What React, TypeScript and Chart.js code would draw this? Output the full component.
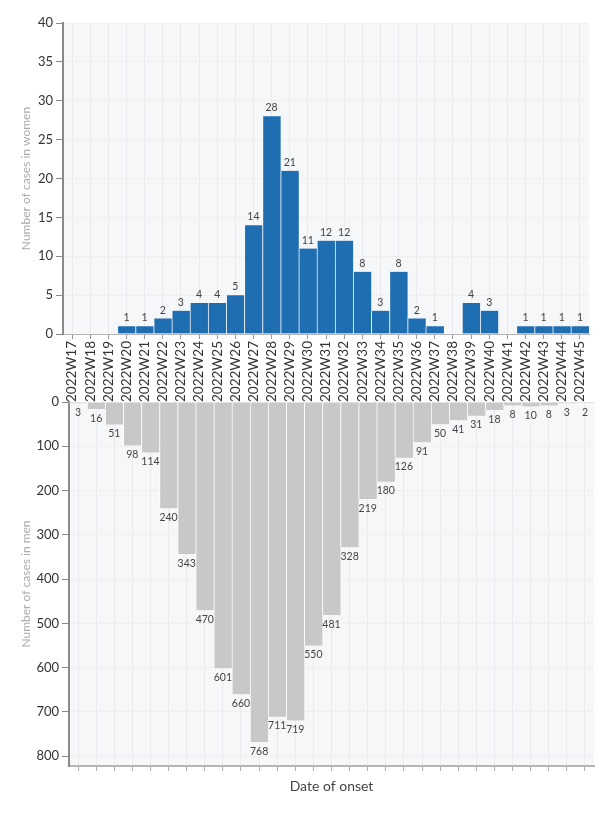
import React, { useEffect, useRef } from "react";
import { Chart, registerables } from "chart.js";
Chart.register(...registerables);

const weeks = [
  "2022W17", "2022W18", "2022W19", "2022W20", "2022W21", "2022W22", "2022W23", "2022W24",
  "2022W25", "2022W26", "2022W27", "2022W28", "2022W29", "2022W30", "2022W31", "2022W32",
  "2022W33", "2022W34", "2022W35", "2022W36", "2022W37", "2022W38", "2022W39", "2022W40",
  "2022W41", "2022W42", "2022W43", "2022W44", "2022W45",
];
const womenCases = [0, 0, 0, 1, 1, 2, 3, 4, 4, 5, 14, 28, 21, 11, 12, 12, 8, 3, 8, 2, 1, 0, 4, 3, 0, 1, 1, 1, 1];
const menCases = [3, 16, 51, 98, 114, 240, 343, 470, 601, 660, 768, 711, 719, 550, 481, 328, 219, 180, 126, 91, 50, 41, 31, 18, 8, 10, 8, 3, 2];
const womenAxisMax = 40;
const womenStep = 5;
const menAxisMax = 822;
const menTicks = [0, 100, 200, 300, 400, 500, 600, 700, 800];

const FONT = "Lato, 'Open Sans', sans-serif";

const plotBg = {
  id: "plotBg",
  beforeDraw(chart: any) {
    const { ctx, chartArea } = chart;
    ctx.save();
    ctx.fillStyle = "#f6f7f9";
    ctx.fillRect(chartArea.left, chartArea.top, chartArea.right - chartArea.left, chartArea.bottom - chartArea.top);
    ctx.restore();
  },
};

const valueLabels = (pos: "above" | "below") => ({
  id: "valueLabels",
  afterDatasetsDraw(chart: any) {
    const ctx = chart.ctx;
    const meta = chart.getDatasetMeta(0);
    const data = chart.data.datasets[0].data as number[];
    ctx.save();
    ctx.font = `10.5px ${FONT}`;
    ctx.fillStyle = "#444";
    ctx.textAlign = "center";
    meta.data.forEach((bar: any, i: number) => {
      const v = data[i];
      if (!v) return;
      const { x, y } = bar.getProps(["x", "y"], true);
      if (pos === "above") {
        ctx.textBaseline = "bottom";
        ctx.fillText(String(v), x, y - 3);
      } else {
        ctx.textBaseline = "top";
        ctx.fillText(String(v), x, y + 4);
      }
    });
    ctx.restore();
  },
});

export default function App() {
  const topRef = useRef<HTMLCanvasElement>(null);
  const botRef = useRef<HTMLCanvasElement>(null);

  useEffect(() => {
    const top = new Chart(topRef.current!, {
      type: "bar",
      data: {
        labels: weeks,
        datasets: [
          {
            data: womenCases,
            backgroundColor: "#1f6eb2",
            borderColor: "rgba(255,255,255,0.55)",
            borderWidth: { left: 1, right: 0, top: 0, bottom: 0 },
            barPercentage: 1,
            categoryPercentage: 1,
          },
        ],
      },
      options: {
        responsive: false,
        animation: false,
        layout: { padding: { top: 23, right: 19, left: 0, bottom: 0 } },
        plugins: { legend: { display: false }, tooltip: { enabled: false } },
        scales: {
          x: {
            offset: true,
            grid: { offset: false, color: "#e9ebee", drawTicks: true, tickLength: 5, tickColor: "#999" },
            border: { color: "#b5b5b5", width: 1 },
            ticks: { minRotation: 90, maxRotation: 90, autoSkip: false, font: { size: 13.5, family: FONT }, color: "#333", padding: 2 },
            afterFit: (s: any) => { s.height = 76; },
          },
          y: {
            min: 0,
            max: womenAxisMax,
            ticks: { stepSize: womenStep, font: { size: 13, family: FONT }, color: "#333", padding: 3 },
            grid: { color: "#eef0f2", drawTicks: true, tickLength: 7, tickColor: "#888" },
            border: { color: "#8a8a8a", width: 2 },
            title: { display: true, text: "Number of cases in women", color: "#aaa", font: { size: 12, family: FONT }, padding: { top: 19, bottom: 0 } },
            afterFit: (s: any) => { s.width = 63; },
          },
        },
      },
      plugins: [plotBg, valueLabels("above")],
    } as any);

    const bot = new Chart(botRef.current!, {
      type: "bar",
      data: {
        labels: weeks,
        datasets: [
          {
            data: menCases,
            backgroundColor: "#c8c8c8",
            borderColor: "rgba(255,255,255,0.8)",
            borderWidth: { left: 1, right: 0, top: 0, bottom: 0 },
            barPercentage: 1,
            categoryPercentage: 1,
          },
        ],
      },
      options: {
        responsive: false,
        animation: false,
        layout: { padding: { top: 22, right: 14, left: 0, bottom: 0 } },
        plugins: { legend: { display: false }, tooltip: { enabled: false } },
        scales: {
          x: {
            offset: true,
            grid: { offset: false, color: "#e9ebee", drawTicks: true, tickLength: 5, tickColor: "#aaa" },
            border: { color: "#b5b5b5", width: 2 },
            ticks: { display: false },
            title: { display: true, text: "Date of onset", color: "#444", font: { size: 14, family: FONT }, padding: { top: 0, bottom: 18 } },
            afterFit: (s: any) => { s.height = 47; },
          },
          y: {
            reverse: true,
            min: 0,
            max: menAxisMax,
            afterBuildTicks: (s: any) => { s.ticks = menTicks.map((v) => ({ value: v })); },
            ticks: { font: { size: 13, family: FONT }, color: "#333", padding: 3 },
            grid: { color: "#eef0f2", drawTicks: true, tickLength: 7, tickColor: "#888" },
            border: { color: "#8a8a8a", width: 2 },
            title: { display: true, text: "Number of cases in men", color: "#aaa", font: { size: 12, family: FONT }, padding: { top: 19, bottom: 0 } },
            afterFit: (s: any) => { s.width = 69; },
          },
        },
      },
      plugins: [plotBg, valueLabels("below")],
    } as any);

    return () => {
      top.destroy();
      bot.destroy();
    };
  }, []);

  return (
    <div style={{ position: "fixed", left: 0, top: 0, width: 608, height: 813, background: "#fff" }}>
      <canvas ref={botRef} width={608} height={433} style={{ position: "absolute", left: 0, top: 380, width: 608, height: 433 }} />
      <canvas ref={topRef} width={608} height={410} style={{ position: "absolute", left: 0, top: 0, width: 608, height: 410 }} />
    </div>
  );
}
